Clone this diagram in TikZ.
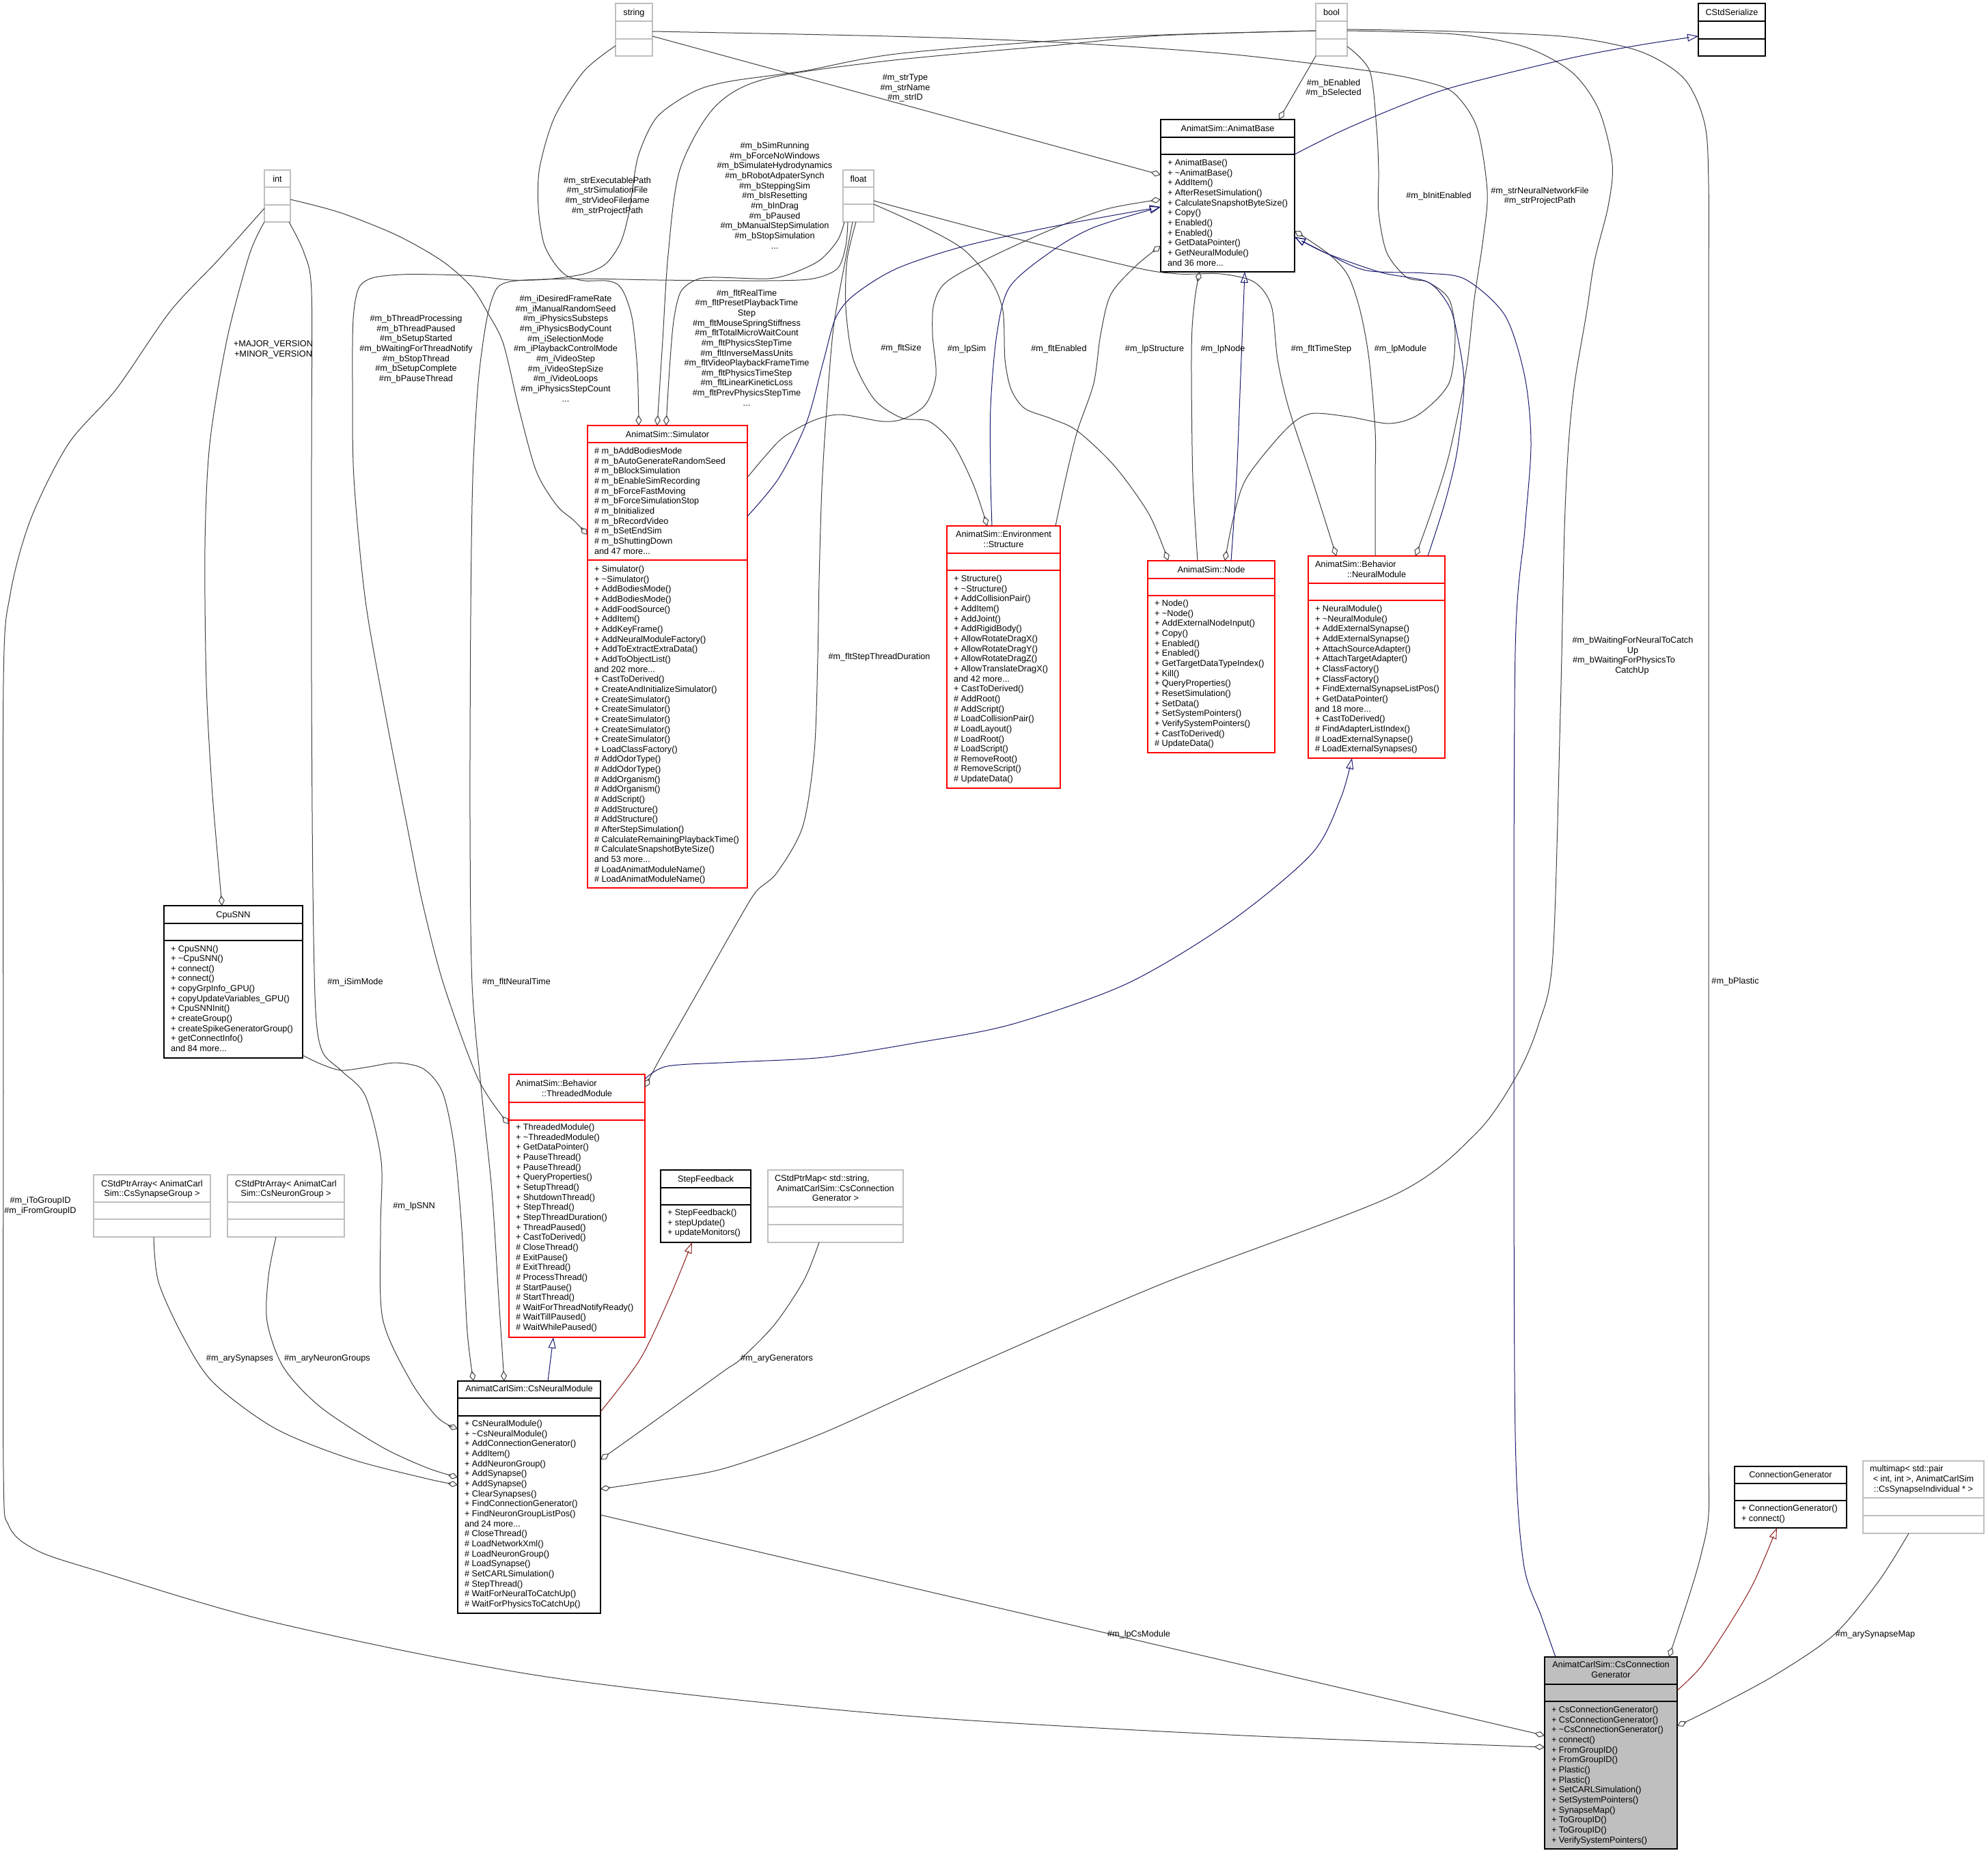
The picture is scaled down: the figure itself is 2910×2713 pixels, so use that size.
\documentclass[tikz,border=0pt]{standalone}
\usepackage{fontspec}
\setmainfont{Liberation Sans}
\usetikzlibrary{arrows.meta}
\definecolor{edgegray}{HTML}{404040}
\definecolor{inhblue}{HTML}{191970}
\definecolor{inhred}{HTML}{8B1A1A}
\definecolor{boxgray}{HTML}{BFBFBF}
\newcommand\dotsx{.\kern0pt.\kern0pt.}
\newcommand\mlist[4]{\foreach \mtext [count=\mi from 0] in {#4} {\node[txt, anchor=base west] (#1\mi) at (#2, #3+\mi*14.65) {\mtext};}}
\newcommand\elbl[4]{\foreach \mtext [count=\mi from 0] in {#4} {\node[txt, anchor=base] (#1\mi) at (#2, #3+4.6+\mi*14.65) {\mtext};}}
\newcommand\sepl[3]{\draw[draw=#1, line width=1.2pt] ([yshift=-#3]#2.north west) -- ([yshift=-#3]#2.north east);}
\tikzset{
  txt/.style={font=\fontsize{12.7}{14.65}\selectfont, inner sep=0pt, outer sep=0pt, text=black},
  umlblack/.style={draw=black, line width=1.2pt, fill=white, inner sep=0pt, outer sep=0pt, anchor=north west},
  umlred/.style={umlblack, draw=red},
  umlgray/.style={umlblack, draw=boxgray},
  agg/.style={draw=edgegray, line width=1pt, -{Diamond[open, length=15pt, width=9pt]}},
  inhb/.style={draw=inhblue, line width=1pt, -{Triangle[open, length=16pt, width=11pt]}},
  inhr/.style={draw=inhred, line width=1pt, -{Triangle[open, length=16pt, width=11pt]}},
}
\begin{document}
\begin{tikzpicture}[x=1pt,y=-1pt]
\fill[white] (0,0) rectangle (2910,2713);
\useasboundingbox (0,0) rectangle (2910,2713);

% ---------------- boxes ----------------
\node[umlgray, minimum width=54, minimum height=77] (string) at (901,5) {};
\sepl{boxgray}{string}{26}\sepl{boxgray}{string}{52}
\node[txt, anchor=base] (string-t) at (928,22.6) {string};

\node[umlgray, minimum width=38, minimum height=76] (int) at (387,249) {};
\sepl{boxgray}{int}{25}\sepl{boxgray}{int}{51}
\node[txt, anchor=base] (int-t) at (406,266.6) {int};

\node[umlgray, minimum width=45, minimum height=76] (float) at (1234,249) {};
\sepl{boxgray}{float}{25}\sepl{boxgray}{float}{50}
\node[txt, anchor=base] (float-t) at (1256.5,266.6) {float};

\node[umlgray, minimum width=46, minimum height=77] (bool) at (1926,5) {};
\sepl{boxgray}{bool}{26}\sepl{boxgray}{bool}{52}
\node[txt, anchor=base] (bool-t) at (1949,22.6) {bool};

\node[umlblack, minimum width=98, minimum height=77] (ser) at (2486,5) {};
\sepl{black}{ser}{26}\sepl{black}{ser}{52}
\node[txt, anchor=base] (ser-t) at (2535,22.6) {CStdSerialize};

\node[umlblack, minimum width=196, minimum height=223] (ab) at (1699,175) {};
\sepl{black}{ab}{26}\sepl{black}{ab}{51}
\node[txt, anchor=base] (ab-t) at (1797,192.6) {AnimatSim::AnimatBase};
\mlist{ab-m}{1709}{242.6}{+ AnimatBase(), + \textasciitilde{}AnimatBase(), + AddItem(), + AfterResetSimulation(), + CalculateSnapshotByteSize(), + Copy(), + Enabled(), + Enabled(), + GetDataPointer(), + GetNeuralModule(), and 36 more\dotsx}

\node[umlred, minimum width=234, minimum height=677] (sim) at (860,623) {};
\sepl{red}{sim}{25}\sepl{red}{sim}{197}
\node[txt, anchor=base] (sim-t) at (977,640.6) {AnimatSim::Simulator};
\mlist{sim-a}{870}{664.6}{\# m\_bAddBodiesMode, \# m\_bAutoGenerateRandomSeed, \# m\_bBlockSimulation, \# m\_bEnableSimRecording, \# m\_bForceFastMoving, \# m\_bForceSimulationStop, \# m\_bInitialized, \# m\_bRecordVideo, \# m\_bSetEndSim, \# m\_bShuttingDown, and 47 more\dotsx}
\mlist{sim-m}{870}{837.6}{+ Simulator(), + \textasciitilde{}Simulator(), + AddBodiesMode(), + AddBodiesMode(), + AddFoodSource(), + AddItem(), + AddKeyFrame(), + AddNeuralModuleFactory(), + AddToExtractExtraData(), + AddToObjectList(), and 202 more\dotsx, + CastToDerived(), + CreateAndInitializeSimulator(), + CreateSimulator(), + CreateSimulator(), + CreateSimulator(), + CreateSimulator(), + CreateSimulator(), + LoadClassFactory(), \# AddOdorType(), \# AddOdorType(), \# AddOrganism(), \# AddOrganism(), \# AddScript(), \# AddStructure(), \# AddStructure(), \# AfterStepSimulation(), \# CalculateRemainingPlaybackTime(), \# CalculateSnapshotByteSize(), and 53 more\dotsx, \# LoadAnimatModuleName(), \# LoadAnimatModuleName()}

\node[umlred, minimum width=166, minimum height=384] (str) at (1386,770) {};
\sepl{red}{str}{40}\sepl{red}{str}{65}
\node[txt, anchor=base] (str-t1) at (1469,786.6) {AnimatSim::Environment};
\node[txt, anchor=base] (str-t2) at (1469,801.6) {::Structure};
\mlist{str-m}{1396}{851.6}{+ Structure(), + \textasciitilde{}Structure(), + AddCollisionPair(), + AddItem(), + AddJoint(), + AddRigidBody(), + AllowRotateDragX(), + AllowRotateDragY(), + AllowRotateDragZ(), + AllowTranslateDragX(), and 42 more\dotsx, + CastToDerived(), \# AddRoot(), \# AddScript(), \# LoadCollisionPair(), \# LoadLayout(), \# LoadRoot(), \# LoadScript(), \# RemoveRoot(), \# RemoveScript(), \# UpdateData()}

\node[umlred, minimum width=186, minimum height=281] (node) at (1680,821) {};
\sepl{red}{node}{26}\sepl{red}{node}{51}
\node[txt, anchor=base] (node-t) at (1773,838.6) {AnimatSim::Node};
\mlist{node-m}{1690}{887.6}{+ Node(), + \textasciitilde{}Node(), + AddExternalNodeInput(), + Copy(), + Enabled(), + Enabled(), + GetTargetDataTypeIndex(), + Kill(), + QueryProperties(), + ResetSimulation(), + SetData(), + SetSystemPointers(), + VerifySystemPointers(), + CastToDerived(), \# UpdateData()}

\node[umlred, minimum width=200, minimum height=296] (nm) at (1915,814) {};
\sepl{red}{nm}{40}\sepl{red}{nm}{65}
\node[txt, anchor=base west] (nm-t1) at (1925,830.6) {AnimatSim::Behavior};
\node[txt, anchor=base] (nm-t2) at (2015,845.6) {::NeuralModule};
\mlist{nm-m}{1925}{895.6}{+ NeuralModule(), + \textasciitilde{}NeuralModule(), + AddExternalSynapse(), + AddExternalSynapse(), + AttachSourceAdapter(), + AttachTargetAdapter(), + ClassFactory(), + ClassFactory(), + FindExternalSynapseListPos(), + GetDataPointer(), and 18 more\dotsx, + CastToDerived(), \# FindAdapterListIndex(), \# LoadExternalSynapse(), \# LoadExternalSynapses()}

\node[umlblack, minimum width=203, minimum height=223] (cpu) at (240,1326) {};
\sepl{black}{cpu}{26}\sepl{black}{cpu}{51}
\node[txt, anchor=base] (cpu-t) at (341.5,1343.6) {CpuSNN};
\mlist{cpu-m}{250}{1393}{+ CpuSNN(), + \textasciitilde{}CpuSNN(), + connect(), + connect(), + copyGrpInfo\_GPU(), + copyUpdateVariables\_GPU(), + CpuSNNInit(), + createGroup(), + createSpikeGeneratorGroup(), + getConnectInfo(), and 84 more\dotsx}

\node[umlred, minimum width=199, minimum height=385] (tm) at (745,1573) {};
\sepl{red}{tm}{41}\sepl{red}{tm}{67}
\node[txt, anchor=base west] (tm-t1) at (755,1590.6) {AnimatSim::Behavior};
\node[txt, anchor=base] (tm-t2) at (844.5,1605.2) {::ThreadedModule};
\mlist{tm-m}{755}{1654.6}{+ ThreadedModule(), + \textasciitilde{}ThreadedModule(), + GetDataPointer(), + PauseThread(), + PauseThread(), + QueryProperties(), + SetupThread(), + ShutdownThread(), + StepThread(), + StepThreadDuration(), + ThreadPaused(), + CastToDerived(), \# CloseThread(), \# ExitPause(), \# ExitThread(), \# ProcessThread(), \# StartPause(), \# StartThread(), \# WaitForThreadNotifyReady(), \# WaitTillPaused(), \# WaitWhilePaused()}

\node[umlblack, minimum width=132, minimum height=106] (sf) at (967,1713) {};
\sepl{black}{sf}{26}\sepl{black}{sf}{51}
\node[txt, anchor=base] (sf-t) at (1033,1730.6) {StepFeedback};
\mlist{sf-m}{977}{1779.6}{+ StepFeedback(), + stepUpdate(), + updateMonitors()}

\node[umlgray, minimum width=198, minimum height=106] (map) at (1124,1713) {};
\sepl{boxgray}{map}{54}\sepl{boxgray}{map}{80}
\node[txt, anchor=base west] (map-t1) at (1134,1729.6) {CStdPtrMap< std::string,};
\node[txt, anchor=base] (map-t2) at (1223,1744.2) {AnimatCarlSim::CsConnection};
\node[txt, anchor=base] (map-t3) at (1223,1758.9) {Generator >};

\node[umlgray, minimum width=171, minimum height=91] (syn) at (137,1720) {};
\sepl{boxgray}{syn}{40}\sepl{boxgray}{syn}{65}
\node[txt, anchor=base] (syn-t1) at (222.5,1737) {CStdPtrArray< AnimatCarl};
\node[txt, anchor=base] (syn-t2) at (222.5,1751.6) {Sim::CsSynapseGroup >};

\node[umlgray, minimum width=171, minimum height=91] (neu) at (333,1720) {};
\sepl{boxgray}{neu}{40}\sepl{boxgray}{neu}{65}
\node[txt, anchor=base] (neu-t1) at (418.5,1737) {CStdPtrArray< AnimatCarl};
\node[txt, anchor=base] (neu-t2) at (418.5,1751.6) {Sim::CsNeuronGroup >};

\node[umlblack, minimum width=209, minimum height=340] (cnm) at (670,2022) {};
\sepl{black}{cnm}{25}\sepl{black}{cnm}{51}
\node[txt, anchor=base] (cnm-t) at (774.5,2037.6) {AnimatCarlSim::CsNeuralModule};
\mlist{cnm-m}{680}{2088.6}{+ CsNeuralModule(), + \textasciitilde{}CsNeuralModule(), + AddConnectionGenerator(), + AddItem(), + AddNeuronGroup(), + AddSynapse(), + AddSynapse(), + ClearSynapses(), + FindConnectionGenerator(), + FindNeuronGroupListPos(), and 24 more\dotsx, \# CloseThread(), \# LoadNetworkXml(), \# LoadNeuronGroup(), \# LoadSynapse(), \# SetCARLSimulation(), \# StepThread(), \# WaitForNeuralToCatchUp(), \# WaitForPhysicsToCatchUp()}

\node[umlblack, minimum width=164, minimum height=90] (cg) at (2539,2147) {};
\sepl{black}{cg}{25}\sepl{black}{cg}{50}
\node[txt, anchor=base] (cg-t) at (2621,2163.2) {ConnectionGenerator};
\mlist{cg-m}{2549}{2212.6}{+ ConnectionGenerator(), + connect()}

\node[umlgray, minimum width=177, minimum height=106] (mm) at (2727,2139) {};
\sepl{boxgray}{mm}{54}\sepl{boxgray}{mm}{80}
\node[txt, anchor=base west] (mm-t1) at (2737,2154.6) {multimap< std::pair};
\node[txt, anchor=base] (mm-t2) at (2815.5,2169.3) {< int, int >, AnimatCarlSim};
\node[txt, anchor=base] (mm-t3) at (2815.5,2184) {::CsSynapseIndividual * >};

\node[umlblack, fill=boxgray, minimum width=194, minimum height=281] (ccg) at (2261,2426) {};
\sepl{black}{ccg}{40}\sepl{black}{ccg}{65}
\node[txt, anchor=base] (ccg-t1) at (2358,2441.6) {AnimatCarlSim::CsConnection};
\node[txt, anchor=base] (ccg-t2) at (2358,2456.3) {Generator};
\mlist{ccg-m}{2271}{2507.6}{+ CsConnectionGenerator(), + CsConnectionGenerator(), + \textasciitilde{}CsConnectionGenerator(), + connect(), + FromGroupID(), + FromGroupID(), + Plastic(), + Plastic(), + SetCARLSimulation(), + SetSystemPointers(), + SynapseMap(), + ToGroupID(), + ToGroupID(), + VerifySystemPointers()}

% ---------------- aggregation edges ----------------
\draw[agg] ([yshift=-48]string.north east) -- ([yshift=-81]ab.north west);
\draw[agg] plot[smooth] coordinates {([yshift=-62]string.north west) (855,104) (812,171) (790,245) (788,304) (796,356) (812,386) (830,404) (855,411) (887,411) (905,417) (916,435) (926,470) (933,541) ([xshift=75]sim.north west)};
\draw[agg] plot[smooth] coordinates {([yshift=-41]string.north east) (1300,53) (1549,62) (1797,79) (2005,104) (2088,120) (2129,137) (2162,187) (2177,280) (2171,350) (2158,438) (2146,543) (2121,666) (2095,750) ([xshift=157]nm.north west)};

\draw[agg] plot[smooth] coordinates {([yshift=-40]bool.north west) (1700,52) (1549,66) (1300,89) (1119,116) (1045,158) (995,249) (978,373) (970,498) ([xshift=102]sim.north west)};
\draw[agg] plot[smooth] coordinates {([yshift=-40]bool.north west) (1632,54) (1320,78) (1176,104) (1069,119) (1016,134) (962,171) (935,226) (925,282) (919,319) (908,356) (887,386) (855,401) (800,409) (748,410) (694,404) (640,402) (587,402) (545,407) (525,422) (517,467) (516,560) (518,700) (535,880) (565,1050) (598,1220) (618,1320) (649,1440) (700,1580) ([yshift=-73]tm.north west)};
\draw[agg] (bool.south west) -- ([xshift=173]ab.north west);
\draw[agg] plot[smooth] coordinates {([yshift=-63]bool.north east) (2005,104) (2015,187) (2018,250) (2018,311) (2030,370) (2059,406) (2090,413) (2121,438) (2130,490) (2121,561) (2078,606) (2034,620) (1973,610) (1917,606) (1880,631) (1824,701) (1805,760) ([xshift=113]node.north west)};
\draw[agg] plot[smooth] coordinates {([yshift=-40]bool.north east) (2129,50) (2230,68) (2300,105) (2340,160) (2360,239) (2354,302) (2334,382) (2322,460) (2305,560) (2296,650) (2290,775) (2284,1043) (2273,1400) (2252,1500) (2220,1575) (2160,1660) (2040,1750) (1700,1880) (1400,2010) (1200,2100) (1060,2150) (960,2168) ([yshift=-158]cnm.north east)};
\draw[agg] plot[smooth] coordinates {([yshift=-38]bool.north east) (2129,46) (2295,54) (2400,75) (2465,115) (2495,180) (2501,270) (2501,500) (2501,1500) (2501,2100) (2501,2217) (2490,2276) (2473,2335) ([xshift=182]ccg.north west)};

\draw[agg] plot[smooth] coordinates {([yshift=-43]int.north east) (497,311) (580,344) (647,382) (690,420) (715,460) (737,504) (760,600) (785,690) (815,740) (840,762) ([yshift=-160]sim.north west)};
\draw[agg] plot[smooth] coordinates {(int.south west) (365,373) (332,498) (307,650) (300,800) (302,1000) (310,1150) (320,1270) ([xshift=85]cpu.north west)};
\draw[agg] plot[smooth] coordinates {([xshift=36]int.south west) (445,370) (456,427) (456,650) (456,1000) (458,1300) (462,1480) (472,1540) (500,1568) (535,1605) (558,1700) (557,1800) (560,1930) (600,2020) (640,2075) ([yshift=-70]cnm.north west)};
\draw[agg] plot[smooth] coordinates {([yshift=-56]int.north west) (320,380) (249,456) (170,570) (100,650) (45,760) (15,870) (5,1000) (5,1600) (5,2150) (13,2234) (54,2270) (143,2300) (400,2375) (800,2455) (1300,2510) (1800,2540) ([yshift=-132]ccg.north west)};

\draw[agg] plot[smooth] coordinates {([xshift=2]float.south west) (1226,352) (1200,381) (1160,400) (1123,408) (1042,406) (1016,411) (996,428) (986,470) (980,540) ([xshift=115]sim.north west)};
\draw[agg] plot[smooth] coordinates {([xshift=7]float.south west) (1238,360) (1226,393) (1190,408) (1123,411) (962,410) (855,408) (769,410) (737,415) (724,428) (712,470) (700,560) (692,700) (689,900) (688,1200) (691,1440) (705,1600) (720,1744) (730,1900) ([xshift=68]cnm.north west)};
\draw[agg] plot[smooth] coordinates {([xshift=19]float.south west) (1240,380) (1238,450) (1249,526) (1280,585) (1320,612) (1360,617) (1395,650) (1425,710) ([xshift=59]str.north west)};
\draw[agg] plot[smooth] coordinates {([xshift=14]float.south west) (1237,383) (1220,480) (1210,600) (1203,715) (1199,850) (1197,963) (1192,1100) (1175,1210) (1137,1278) (1107,1305) (1080,1349) (1020,1455) (966,1550) ([yshift=-19]tm.north east)};
\draw[agg] plot[smooth] coordinates {([yshift=-50]float.north east) (1354,333) (1410,365) (1450,410) (1468,455) (1471,526) (1480,570) (1500,598) (1539,613) (1577,631) (1632,683) (1682,753) ([xshift=30]node.north west)};
\draw[agg] plot[smooth] coordinates {([yshift=-45]float.north east) (1478,347) (1663,392) (1725,401) (1787,401) (1836,413) (1861,448) (1870,526) (1886,596) (1920,700) ([xshift=41]nm.north west)};

\draw[agg] plot[smooth] coordinates {([yshift=-76]sim.north east) (1120,668) (1147,640) (1190,616) (1230,607) (1292,617) (1323,613) (1355,592) (1370,550) (1365,490) (1367,445) (1385,413) (1447,378) (1539,336) (1620,306) ([yshift=-117]ab.north west)};
\draw[agg] plot[smooth] coordinates {([xshift=159]str.north west) (1560,700) (1577,631) (1601,561) (1611,490) (1626,431) (1663,389) ([yshift=-185]ab.north west)};
\draw[agg] plot[smooth] coordinates {([xshift=73]node.north west) (1746,700) (1744,550) (1745,480) (1750,430) ([xshift=57]ab.south west)};
\draw[agg] plot[smooth] coordinates {([xshift=98]nm.north west) (2013,700) (2013,631) (2004,526) (1991,455) (1973,403) (1945,372) ([yshift=-163]ab.north east)};

\draw[agg] plot[smooth] coordinates {([yshift=-219]cpu.north east) (470,1558) (500,1567) (540,1562) (580,1556) (620,1565) (648,1600) (665,1680) (676,1800) (684,1950) ([xshift=23]cnm.north west)};
\draw[agg] plot[smooth] coordinates {([xshift=88]syn.south west) (232,1877) (268,1957) (312,2024) (402,2091) (513,2136) (625,2165) ([yshift=-152]cnm.north west)};
\draw[agg] plot[smooth] coordinates {([xshift=71]neu.south west) (393,1868) (391,1935) (415,2002) (469,2060) (558,2118) (625,2149) ([yshift=-141]cnm.north west)};
\draw[agg] plot[smooth] coordinates {([xshift=75]map.south west) (1177,1874) (1134,1939) (1084,1990) (1060,2007) (970,2072) ([yshift=-115]cnm.north east)};
\draw[agg] ([yshift=-196]cnm.north east) -- ([yshift=-115]ccg.north west);
\draw[agg] plot[smooth] coordinates {([xshift=67]mm.south west) (2750,2315) (2685,2393) (2599,2452) (2512,2499) ([yshift=-101]ccg.north east)};

% ---------------- inheritance edges ----------------
\draw[inhb] plot[smooth] coordinates {([yshift=-51]ab.north east) (1963,192) (2050,155) (2129,127) (2295,86) (2400,66) ([yshift=-48]ser.north west)};
\draw[inhb] plot[smooth] coordinates {([yshift=-133]sim.north east) (1140,700) (1180,620) (1205,530) (1223,466) (1250,432) (1313,393) (1413,360) (1550,330) ([yshift=-128]ab.north west)};
\draw[inhb] plot[smooth] coordinates {([xshift=66]str.north west) (1450,700) (1450,596) (1459,490) (1478,420) (1539,368) (1601,333) ([yshift=-128]ab.north west)};
\draw[inhb] plot[smooth] coordinates {([xshift=122]node.north west) (1810,700) (1816,550) (1820,450) ([xshift=123]ab.south west)};
\draw[inhb] plot[smooth] coordinates {([xshift=175]nm.north west) (2115,736) (2133,660) (2143,561) (2133,490) (2121,448) (2090,413) (2022,399) (1942,371) ([yshift=-172]ab.north east)};
\draw[inhb] plot[smooth] coordinates {([xshift=16]ccg.north west) (2256,2366) (2230,2288) (2218,2100) (2216,1550) (2218,953) (2232,775) (2241,650) (2232,552) (2203,462) (2145,409) (2087,400) (2000,396) (1942,371) ([yshift=-172]ab.north east)};
\draw[inhb] plot[smooth] coordinates {([yshift=-7]tm.north east) (977,1561) (1077,1555) (1206,1548) (1340,1527) (1480,1500) (1650,1440) (1800,1350) (1920,1250) (1962,1170) ([xshift=64]nm.south west)};
\draw[inhb] ([xshift=132]cnm.north west) -- ([xshift=65]tm.south west);
\draw[inhr] plot[smooth] coordinates {([yshift=-45]cnm.north east) (937,1990) (980,1900) ([xshift=46]sf.south west)};
\draw[inhr] plot[smooth] coordinates {([yshift=-49]ccg.north east) (2490,2440) (2534,2374) (2568,2315) ([xshift=62]cg.south west)};

% ---------------- edge labels ----------------
\elbl{lA}{1325}{113}{\#m\_strType, \#m\_strName, \#m\_strID}
\elbl{lB}{1952}{120.5}{\#m\_bEnabled, \#m\_bSelected}
\elbl{lC}{889}{263.5}{\#m\_strExecutablePath, \#m\_strSimulationFile, \#m\_strVideoFilename, \#m\_strProjectPath}
\elbl{lD}{1134}{213}{\#m\_bSimRunning, \#m\_bForceNoWindows, \#m\_bSimulateHydrodynamics, \#m\_bRobotAdpaterSynch, \#m\_bSteppingSim, \#m\_bIsResetting, \#m\_bInDrag, \#m\_bPaused, \#m\_bManualStepSimulation, \#m\_bStopSimulation, \dotsx}
\elbl{lE}{400}{503}{+MAJOR\_VERSION, +MINOR\_VERSION}
\elbl{lF}{609}{466}{\#m\_bThreadProcessing, \#m\_bThreadPaused, \#m\_bSetupStarted, \#m\_bWaitingForThreadNotify, \#m\_bStopThread, \#m\_bSetupComplete, \#m\_bPauseThread}
\elbl{lG}{828}{437}{\#m\_iDesiredFrameRate, \#m\_iManualRandomSeed, \#m\_iPhysicsSubsteps, \#m\_iPhysicsBodyCount, \#m\_iSelectionMode, \#m\_iPlaybackControlMode, \#m\_iVideoStep, \#m\_iVideoStepSize, \#m\_iVideoLoops, \#m\_iPhysicsStepCount, \dotsx}
\elbl{lH}{1093}{428.5}{\#m\_fltRealTime, \#m\_fltPresetPlaybackTime, Step, \#m\_fltMouseSpringStiffness, \#m\_fltTotalMicroWaitCount, \#m\_fltPhysicsStepTime, \#m\_fltInverseMassUnits, \#m\_fltVideoPlaybackFrameTime, \#m\_fltPhysicsTimeStep, \#m\_fltLinearKineticLoss, \#m\_fltPrevPhysicsStepTime, \dotsx}
\elbl{lI}{1319}{509}{\#m\_fltSize}
\elbl{lJ}{1415}{510}{\#m\_lpSim}
\elbl{lK}{1550}{510}{\#m\_fltEnabled}
\elbl{lL}{1690}{510}{\#m\_lpStructure}
\elbl{lM}{1790}{510}{\#m\_lpNode}
\elbl{lN}{1934}{510}{\#m\_fltTimeStep}
\elbl{lO}{2050}{510}{\#m\_lpModule}
\elbl{lP}{2106}{286}{\#m\_bInitEnabled}
\elbl{lQ}{2254}{278.5}{\#m\_strNeuralNetworkFile, \#m\_strProjectPath}
\elbl{lR}{2390}{937}{\#m\_bWaitingForNeuralToCatch, Up}
\elbl{lRb}{2377}{966.3}{\#m\_bWaitingForPhysicsTo}
\elbl{lRc}{2389}{981}{CatchUp}
\elbl{lS}{2540}{1436}{\#m\_bPlastic}
\elbl{lT}{1287}{961}{\#m\_fltStepThreadDuration}
\elbl{lU}{520}{1437}{\#m\_iSimMode}
\elbl{lV}{756}{1437}{\#m\_fltNeuralTime}
\elbl{lW}{606}{1765}{\#m\_lpSNN}
\elbl{lX}{59}{1757}{\#m\_iToGroupID, \#m\_iFromGroupID}
\elbl{lY}{351}{1988}{\#m\_arySynapses}
\elbl{lZ}{479}{1988}{\#m\_aryNeuronGroups}
\elbl{la}{1137}{1988}{\#m\_aryGenerators}
\elbl{lb}{1667}{2392}{\#m\_lpCsModule}
\elbl{lc}{2745}{2392}{\#m\_arySynapseMap}
\end{tikzpicture}
\end{document}
